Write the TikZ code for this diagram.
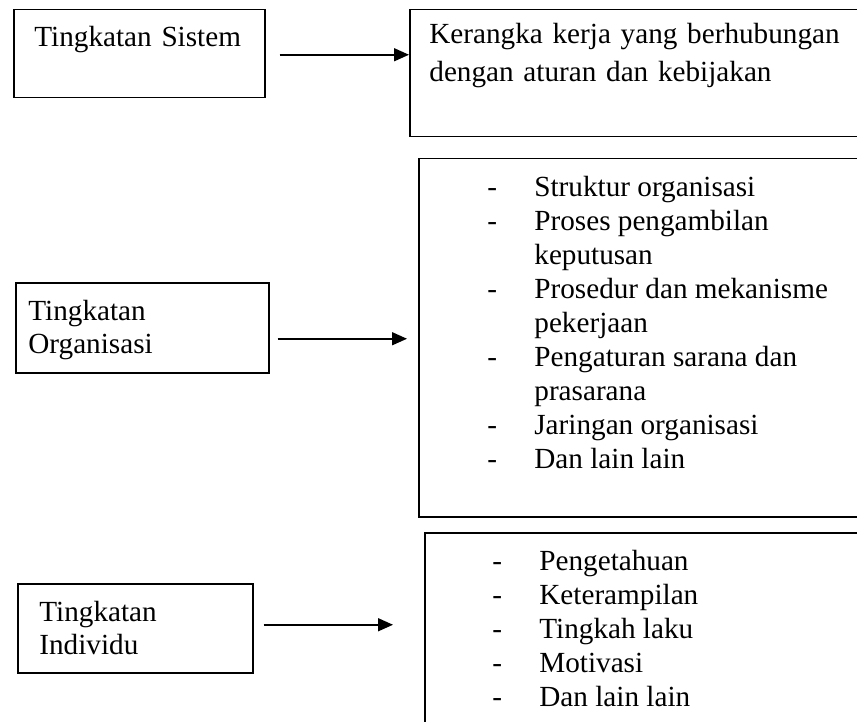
\documentclass[tikz,border=0pt]{standalone}
\usepackage{fontspec}
\setmainfont{Liberation Serif}
\usetikzlibrary{arrows.meta, positioning, calc}

\begin{document}
\begin{tikzpicture}[
  x=0.5pt, y=-0.5pt,
  lvl/.style={rectangle, draw, line width=0.75pt, inner sep=0pt, anchor=north west},
  txt/.style={inner sep=0pt, anchor=base west, align=left, text width=#1,
    font=\fontsize{14.6pt}{16.5pt}\selectfont},
  lst/.style={inner sep=0pt, anchor=base west, font=\fontsize{14.6pt}{17pt}\selectfont},
  arr/.style={-{Triangle[length=7.5pt, width=6.5pt]}, line width=0.8pt},
]
  \useasboundingbox (0,0) rectangle (857,722);
  \clip (0,0) rectangle (857,722);

  % levels on the left
  \node[lvl, minimum width=125.5pt, minimum height=44pt] (sys) at (13,9) {};
  \node[lvl, minimum width=126.5pt, minimum height=45pt] (org) at (15,282) {};
  \node[lvl, minimum width=117.5pt, minimum height=44.5pt] (ind) at (17,583) {};

  \node[txt=125pt] (systxt) at ([xshift=10.5pt, yshift=-19pt]sys.north west) {Tingkatan Sistem};
  \node[txt=110pt] (orgtxt) at ([xshift=6.5pt, yshift=-19pt]org.north west) {Tingkatan\\Organisasi};
  \node[txt=100pt] (indtxt) at ([xshift=11pt, yshift=-19pt]ind.north west) {Tingkatan\\Individu};

  % contents on the right (run past the page edge)
  \node[lvl, minimum width=236pt, minimum height=63.5pt] (frame) at (409,9) {};
  \node[lvl, minimum width=231pt, minimum height=179pt] (orglist) at (418,158) {};
  \node[lvl, minimum width=228pt, minimum height=110pt] (indlist) at (424,532) {};

  \node[txt=220pt, font=\fontsize{14.6pt}{19pt}\selectfont] (frametxt)
    at ([xshift=10pt, yshift=-17.5pt]frame.north west)
    {Kerangka kerja yang berhubungan\\dengan aturan dan kebijakan};

  \node[lst] (orgitems) at ([xshift=34.5pt, yshift=-19.5pt]orglist.north west) {%
    \begin{tabular}[t]{@{}p{23.5pt}@{}l@{}}
      - & Struktur organisasi\\
      - & Proses pengambilan\\
        & keputusan\\
      - & Prosedur dan mekanisme\\
        & pekerjaan\\
      - & Pengaturan sarana dan\\
        & prasarana\\
      - & Jaringan organisasi\\
      - & Dan lain lain
    \end{tabular}};

  \node[lst] (inditems) at ([xshift=34pt, yshift=-19pt]indlist.north west) {%
    \begin{tabular}[t]{@{}p{23.5pt}@{}l@{}}
      - & Pengetahuan\\
      - & Keterampilan\\
      - & Tingkah laku\\
      - & Motivasi\\
      - & Dan lain lain
    \end{tabular}};

  % arrows
  \coordinate (sysout) at ([xshift=7pt, yshift=-0.5pt]sys.east);
  \coordinate (orgout) at ([xshift=4pt, yshift=-5.5pt]org.east);
  \coordinate (indout) at ([xshift=5pt, yshift=1.75pt]ind.east);

  \draw[arr] (sysout) -- (sysout -| frame.west);
  \draw[arr, shorten >=5.5pt] (orgout) -- (orgout -| orglist.west);
  \draw[arr, shorten >=15.5pt] (indout) -- (indout -| indlist.west);
\end{tikzpicture}
\end{document}
